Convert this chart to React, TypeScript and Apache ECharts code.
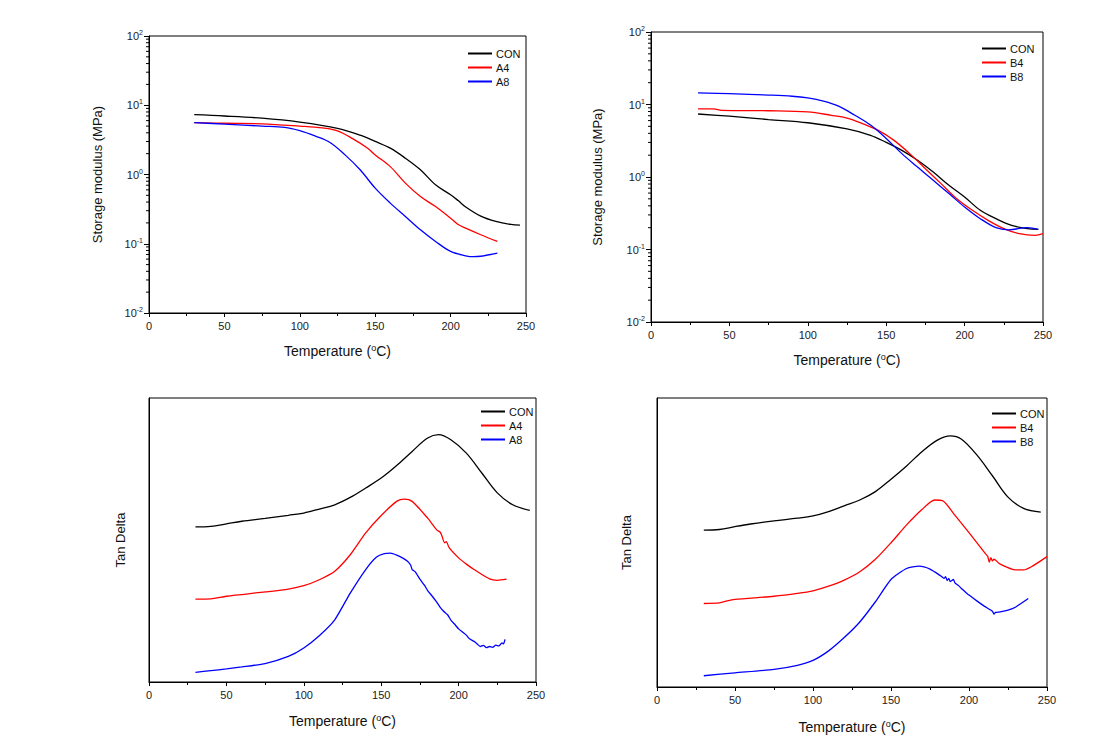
import React, { useEffect, useRef } from "react";
import * as echarts from "echarts";

// ---- Storage modulus (MPa), panel A (top-left) ----
const smA_CON: [number, number][] = [
  [30, 7.3], [50, 7.0], [75, 6.5], [100, 5.7], [125, 4.65], [140, 3.7], [150, 3.0], [160, 2.4],
  [170, 1.72], [180, 1.17], [190, 0.71], [200, 0.51], [205, 0.42], [210, 0.34], [220, 0.25],
  [230, 0.21], [240, 0.19], [246, 0.186],
];
const smA_A4: [number, number][] = [
  [30, 5.6], [50, 5.5], [75, 5.4], [100, 5.0], [115, 4.7], [125, 4.27], [135, 3.3], [145, 2.4],
  [150, 1.92], [160, 1.3], [170, 0.75], [180, 0.48], [190, 0.345], [200, 0.234], [205, 0.19],
  [210, 0.168], [220, 0.135], [231, 0.108],
];
const smA_A8: [number, number][] = [
  [30, 5.6], [50, 5.35], [75, 5.0], [90, 4.8], [100, 4.3], [110, 3.6], [120, 2.9], [130, 1.92],
  [140, 1.17], [150, 0.635], [160, 0.386], [170, 0.248], [180, 0.159], [190, 0.108], [200, 0.0775],
  [210, 0.067], [215, 0.065], [220, 0.066], [231, 0.073],
];

// ---- Storage modulus (MPa), panel B (top-right) ----
const smB_CON: [number, number][] = [
  [30, 7.4], [50, 6.9], [75, 6.2], [100, 5.6], [125, 4.6], [140, 3.76], [150, 3.0], [160, 2.33],
  [170, 1.7], [180, 1.17], [190, 0.77], [200, 0.53], [210, 0.347], [220, 0.266], [230, 0.215],
  [240, 0.194], [247, 0.19],
];
const smB_B4: [number, number][] = [
  [30, 8.7], [40, 8.7], [45, 8.3], [75, 8.2], [100, 7.9], [115, 7.1], [125, 6.5], [135, 5.45],
  [145, 4.4], [155, 3.2], [165, 2.1], [175, 1.3], [185, 0.81], [195, 0.5], [205, 0.347],
  [215, 0.252], [225, 0.194], [235, 0.165], [245, 0.157], [250, 0.165],
];
const smB_B8: [number, number][] = [
  [30, 14.5], [50, 14.1], [75, 13.5], [90, 13.0], [100, 12.3], [110, 11.1], [120, 9.4], [130, 7.1],
  [140, 5.2], [150, 3.4], [160, 2.1], [170, 1.37], [180, 0.9], [190, 0.59], [200, 0.386],
  [210, 0.266], [220, 0.2], [228, 0.187], [240, 0.2], [247, 0.19],
];

// ---- Tan Delta (arbitrary units), panel A (bottom-left) ----
const tdA_CON: [number, number][] = [
  [30, 0.546], [40, 0.548], [50, 0.557], [60, 0.566], [75, 0.576], [90, 0.587], [100, 0.595],
  [110, 0.609], [120, 0.624], [130, 0.65], [140, 0.683], [150, 0.718], [160, 0.762], [170, 0.812],
  [180, 0.859], [187, 0.871], [195, 0.853], [205, 0.806], [215, 0.736], [225, 0.666],
  [235, 0.624], [246, 0.604],
];
const tdA_A4: [number, number][] = [
  [30, 0.292], [40, 0.293], [50, 0.302], [75, 0.317], [90, 0.327], [100, 0.339], [110, 0.36],
  [120, 0.39], [130, 0.448], [140, 0.525], [150, 0.586], [160, 0.636], [165, 0.644], [170, 0.636],
  [180, 0.577], [186, 0.535], [188, 0.528], [189, 0.518], [191, 0.49], [192, 0.494], [194, 0.472],
  [200, 0.437], [205, 0.415], [210, 0.396], [220, 0.363], [225, 0.358], [231, 0.362],
];
const tdA_A8: [number, number][] = [
  [30, 0.034], [40, 0.04], [50, 0.046], [60, 0.053], [75, 0.065], [90, 0.09], [100, 0.12],
  [110, 0.163], [120, 0.219], [130, 0.313], [140, 0.396], [147, 0.44], [152, 0.452], [156, 0.454],
  [160, 0.447], [164, 0.436], [167, 0.425], [169, 0.412], [170, 0.396], [172, 0.388], [175, 0.362],
  [178, 0.34], [180, 0.322], [183, 0.302], [186, 0.28], [188, 0.264], [190, 0.251], [193, 0.236],
  [195, 0.218], [198, 0.2], [200, 0.187], [203, 0.174], [205, 0.165], [207, 0.152], [210, 0.143],
  [212, 0.134], [214, 0.125], [216, 0.129], [218, 0.121], [220, 0.125], [222, 0.122],
  [224, 0.13], [226, 0.127], [228, 0.138], [229, 0.134], [230, 0.15],
];

// ---- Tan Delta (arbitrary units), panel B (bottom-right) ----
const tdB_CON: [number, number][] = [
  [30, 0.543], [40, 0.545], [50, 0.555], [60, 0.564], [75, 0.575], [90, 0.584], [100, 0.592],
  [110, 0.607], [120, 0.627], [130, 0.647], [140, 0.676], [150, 0.719], [160, 0.765], [170, 0.815],
  [180, 0.855], [188, 0.869], [195, 0.858], [205, 0.803], [215, 0.731], [225, 0.657],
  [235, 0.618], [246, 0.605],
];
const tdB_B4: [number, number][] = [
  [30, 0.289], [40, 0.291], [45, 0.298], [50, 0.303], [75, 0.314], [90, 0.324], [100, 0.333],
  [110, 0.349], [120, 0.37], [130, 0.399], [140, 0.442], [150, 0.499], [160, 0.561], [170, 0.615],
  [178, 0.647], [183, 0.645], [190, 0.601], [200, 0.534], [210, 0.465], [212, 0.452],
  [213, 0.432], [214, 0.448], [215, 0.436], [216, 0.442], [220, 0.425], [230, 0.405],
  [235, 0.405], [240, 0.416], [250, 0.451],
];
const tdB_B8: [number, number][] = [
  [30, 0.039], [50, 0.049], [75, 0.061], [90, 0.075], [100, 0.092], [110, 0.125], [120, 0.171],
  [130, 0.225], [140, 0.295], [150, 0.372], [160, 0.41], [168, 0.418], [175, 0.408], [182, 0.384],
  [184, 0.376], [185, 0.382], [186, 0.368], [187, 0.376], [188, 0.365], [190, 0.372], [191, 0.36],
  [193, 0.352], [195, 0.342], [200, 0.318], [205, 0.298], [210, 0.279], [215, 0.262],
  [216, 0.252], [217, 0.258], [220, 0.26], [225, 0.266], [230, 0.277], [238, 0.306],
];

const xTicks = [0, 50, 100, 150, 200, 250];
const logMinor: number[] = [];
[0.01, 0.1, 1, 10].forEach((d) => {
  for (let k = 2; k <= 9; k++) logMinor.push(+(d * k).toPrecision(3));
});

const FONT = "Liberation Sans";
const BLACK = "#000000";
const RED = "#ff0000";
const BLUE = "#0000ff";

export default function App() {
  const ref = useRef<HTMLDivElement>(null);
  useEffect(() => {
    if (!ref.current) return;
    const chart = echarts.init(ref.current, undefined, { renderer: "svg" });

    const grids = [
      { left: 149, top: 36, width: 377, height: 277 },
      { left: 651, top: 32, width: 392, height: 290 },
      { left: 149, top: 398, width: 387, height: 284 },
      { left: 657, top: 398, width: 390, height: 289 },
    ].map((g) => ({ ...g, show: true, borderColor: "#000", borderWidth: 1, backgroundColor: "transparent" }));

    const xNameGaps = [30, 30, 31, 32];
    const xAxes = grids.map((_, i) => ({
      type: "value",
      gridIndex: i,
      min: xTicks[0],
      max: xTicks[xTicks.length - 1],
      interval: 50,
      name: "{a|Temperature (}{s|o}{a|C)}",
      nameLocation: "middle",
      nameGap: xNameGaps[i],
      nameTextStyle: {
        fontFamily: FONT,
        color: "#111",
        rich: {
          a: { fontSize: 14, fontFamily: FONT, color: "#111", lineHeight: 16 },
          s: { fontSize: 9, fontFamily: FONT, color: "#111", verticalAlign: "top", lineHeight: 9 },
        },
      },
      axisLine: { show: true, onZero: false, lineStyle: { color: "#000", width: 1 } },
      axisTick: { show: true, inside: false, length: 4, lineStyle: { color: "#000" } },
      minorTick: { show: true, splitNumber: 2, length: 3, lineStyle: { color: "#000" } },
      axisLabel: { fontFamily: FONT, fontSize: 11, color: "#222", margin: 7 },
      splitLine: { show: false },
    }));

    const logAxis = (i: number, gap: number) => ({
      type: "log",
      logBase: 10,
      gridIndex: i,
      min: 0.01,
      max: 100,
      splitNumber: 4,
      name: "Storage modulus (MPa)",
      nameLocation: "middle",
      nameGap: gap,
      nameTextStyle: { fontFamily: FONT, fontSize: 13, color: "#111" },
      axisLine: { show: true, onZero: false, lineStyle: { color: "#000", width: 1 } },
      axisTick: { show: true, inside: false, length: 5, lineStyle: { color: "#000" } },
      axisLabel: {
        fontFamily: FONT,
        color: "#222",
        margin: 6,
        formatter: (v: number) => `{b|10}{s|${Math.round(Math.log10(v))}}`,
        rich: {
          b: { fontSize: 11, fontFamily: FONT, color: "#222", lineHeight: 14 },
          s: { fontSize: 7, fontFamily: FONT, color: "#222", verticalAlign: "top", lineHeight: 8 },
        },
      },
      splitLine: { show: false },
    });

    const tanAxis = (i: number, gap: number) => ({
      type: "value",
      gridIndex: i,
      min: 0,
      max: 1,
      name: "Tan Delta",
      nameLocation: "middle",
      nameGap: gap,
      nameTextStyle: { fontFamily: FONT, fontSize: 13, color: "#111" },
      axisLine: { show: true, onZero: false, lineStyle: { color: "#000", width: 1 } },
      axisTick: { show: false },
      axisLabel: { show: false },
      splitLine: { show: false },
    });

    const yAxes = [logAxis(0, 45), logAxis(1, 47), tanAxis(2, 22), tanAxis(3, 24)];

    const line = (name: string, data: [number, number][], color: string, idx: number, smooth: number | boolean) => ({
      type: "line",
      name,
      data,
      xAxisIndex: idx,
      yAxisIndex: idx,
      showSymbol: false,
      symbol: "none",
      smooth,
      lineStyle: { color, width: 1.3 },
      itemStyle: { color },
      silent: true,
    });

    const minorTicks = (idx: number) => ({
      type: "custom",
      xAxisIndex: idx,
      yAxisIndex: idx,
      silent: true,
      clip: false,
      data: logMinor.map((v) => [0, v]),
      encode: { x: 0, y: 1 },
      renderItem: (_p: any, api: any) => {
        const p = api.coord([0, api.value(1)]);
        return {
          type: "line",
          shape: { x1: p[0] - 3, y1: p[1], x2: p[0], y2: p[1] },
          style: { stroke: "#000", lineWidth: 1 },
        };
      },
    });

    const legend = (left: number, top: number, names: string[]) => ({
      orient: "vertical",
      left,
      top,
      data: names.map((n) => ({ name: n, icon: "rect" })),
      itemWidth: 24,
      itemHeight: 2,
      itemGap: 1,
      selectedMode: false,
      textStyle: { fontFamily: FONT, fontSize: 11, color: "#111", padding: [0, 0, 0, -1], lineHeight: 13 },
    });

    chart.setOption({
      animation: false,
      backgroundColor: "#ffffff",
      grid: grids,
      xAxis: xAxes,
      yAxis: yAxes,
      legend: [
        legend(463, 42, ["CON", "A4", "A8"]),
        legend(977, 37, ["CON", "B4", "B8"]),
        legend(476, 400, ["CON", "A4", "A8"]),
        legend(987, 402, ["CON", "B4", "B8"]),
      ],
      series: [
        line("CON", smA_CON, BLACK, 0, 0.35),
        line("A4", smA_A4, RED, 0, 0.35),
        line("A8", smA_A8, BLUE, 0, 0.35),
        line("CON", smB_CON, BLACK, 1, 0.35),
        line("B4", smB_B4, RED, 1, 0.35),
        line("B8", smB_B8, BLUE, 1, 0.35),
        line("CON", tdA_CON, BLACK, 2, 0.35),
        line("A4", tdA_A4, RED, 2, 0.25),
        line("A8", tdA_A8, BLUE, 2, 0.2),
        line("CON", tdB_CON, BLACK, 3, 0.35),
        line("B4", tdB_B4, RED, 3, 0.25),
        line("B8", tdB_B8, BLUE, 3, 0.2),
        minorTicks(0),
        minorTicks(1),
      ],
    });
    return () => chart.dispose();
  }, []);
  return (
    <div
      ref={ref}
      style={{ position: "absolute", left: 0, top: 0, width: 1100, height: 750, background: "#fff" }}
    />
  );
}
